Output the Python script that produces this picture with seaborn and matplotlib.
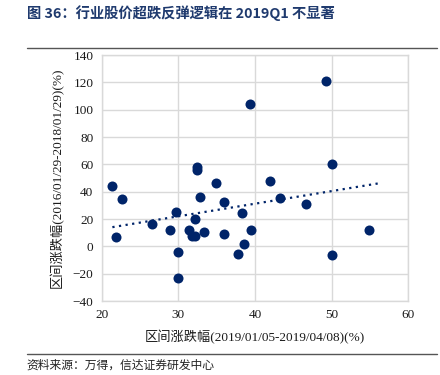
import numpy as np
import pandas as pd
import matplotlib
matplotlib.use("Agg")
import matplotlib.pyplot as plt
import seaborn as sns

# Data
x_change_2019 = [49.3, 39.4, 50.1, 32.4, 32.4, 21.4, 22.6, 21.9, 26.6, 28.9, 29.7,
                 30.0, 30.0, 31.4, 31.8, 32.2, 32.2, 32.8, 33.4, 34.9, 36.0, 36.0,
                 38.3, 37.8, 38.6, 39.5, 41.9, 43.2, 46.7, 50.0, 54.9]
y_change_2016 = [121.4, 104.0, 60.2, 58.2, 55.8, 44.3, 34.6, 6.6, 16.1, 11.7, 25.3,
                 -4.4, -22.9, 11.7, 8.0, 8.0, 20.0, 36.1, 10.5, 46.5, 32.4, 9.0,
                 24.6, -5.6, 1.7, 12.4, 48.0, 35.6, 30.9, -6.6, 12.4]
x_ticks = [20, 30, 40, 50, 60]
y_ticks = [-40, -20, 0, 20, 40, 60, 80, 100, 120, 140]

title = "图 36：行业股价超跌反弹逻辑在 2019Q1 不显著"
xlabel = "区间涨跌幅(2019/01/05-2019/04/08)(%)"
ylabel = "区间涨跌幅(2016/01/29-2018/01/29)(%)"
source = "资料来源：万得，信达证券研发中心"

df = pd.DataFrame({"x": x_change_2019, "y": y_change_2016})

sns.set_theme(style="white")
plt.rcParams["font.family"] = ["Liberation Serif", "Noto Sans CJK SC", "DejaVu Sans"]

navy = "#002469"
fig = plt.figure(figsize=(4.4, 3.75), dpi=100)
ax = fig.add_axes([0.231, 0.197, 0.697, 0.656])

# trendline (least squares)
k, b = np.polyfit(df["x"], df["y"], 1)
xs = np.array([df["x"].min(), df["x"].max() + 1.6])
ax.plot(xs, k * xs + b, linestyle=(0, (1, 2)), color=navy, linewidth=1.6, zorder=2)

sns.scatterplot(data=df, x="x", y="y", ax=ax, color=navy, s=52,
                edgecolor=navy, linewidth=0, zorder=3)

ax.set_xlim(20, 60)
ax.set_ylim(-40, 140)
ax.set_xticks(x_ticks)
ax.set_yticks(y_ticks)
ax.tick_params(axis="both", labelsize=9.5, length=0, pad=6, colors="#1a1a1a")
ax.grid(True, color="#d9d9d9", linewidth=1.0)
for sp in ax.spines.values():
    sp.set_color("#d9d9d9")
    sp.set_linewidth(1.0)
ax.set_axisbelow(True)
ax.set_xlabel(xlabel, fontsize=9.5, color="#1a1a1a", labelpad=6)
ax.set_ylabel(ylabel, fontsize=9.5, color="#1a1a1a", labelpad=6)

fig.text(0.061, 0.965, title, fontsize=10.3, fontweight="bold", color="#1f3a6e",
         family=["Noto Sans CJK SC", "DejaVu Sans"], va="center", ha="left")
fig.add_artist(plt.Line2D([0.061, 0.993], [0.873, 0.873], color="#555555", linewidth=1.0))
fig.add_artist(plt.Line2D([0.061, 0.993], [0.056, 0.056], color="#555555", linewidth=1.0))
fig.text(0.061, 0.027, source, fontsize=8.5, style="italic", color="#222222",
         family=["Noto Sans CJK SC", "DejaVu Sans"], va="center", ha="left")

fig.savefig("out.png", dpi=100)
